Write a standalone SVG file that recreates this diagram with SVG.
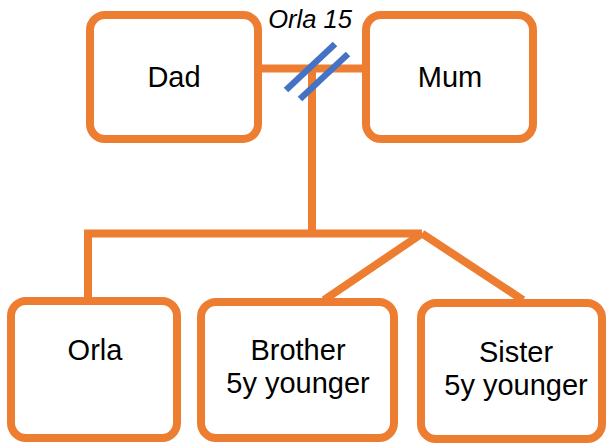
<svg xmlns="http://www.w3.org/2000/svg" width="609" height="444" viewBox="0 0 609 444">
  <style>
    .box { fill: #ffffff; stroke: #ED7D31; stroke-width: 8; }
    .link { fill: none; stroke: #ED7D31; stroke-width: 8; }
    .mark { stroke: #4472C4; stroke-width: 6.5; }
    .label { font-family: "Liberation Sans", Arial, sans-serif; font-size: 29px; fill: #000000; text-anchor: middle; }
    .note { font-family: "Liberation Sans", Arial, sans-serif; font-size: 25.5px; font-style: italic; fill: #000000; text-anchor: middle; }
  </style>

  <!-- family connectors -->
  <g id="connectors">
    <line class="link" x1="262" y1="68.5" x2="362" y2="68.5"/>
    <line class="link" x1="312" y1="68.5" x2="312" y2="233.5"/>
    <polyline class="link" points="88,298 88,233.5 84,233.5 422,233.5"/>
    <line class="link" x1="422" y1="233.5" x2="324" y2="300"/>
    <line class="link" x1="422" y1="233.5" x2="523" y2="300"/>
    <!-- separation mark on the parents' line -->
    <g id="separation">
      <line class="mark" x1="286" y1="90" x2="335" y2="44"/>
      <line class="mark" x1="300" y1="99" x2="348" y2="54"/>
      <text class="note" x="310" y="28">Orla 15</text>
    </g>
  </g>

  <g id="dad">
    <rect class="box" x="90" y="15" width="168" height="124" rx="15"/>
    <text class="label" x="174" y="87">Dad</text>
  </g>

  <g id="mum">
    <rect class="box" x="366" y="15" width="167" height="124" rx="15"/>
    <text class="label" x="450" y="87">Mum</text>
  </g>

  <g id="orla">
    <rect class="box" x="11" y="301" width="166" height="137" rx="15"/>
    <text class="label" x="95" y="360">Orla</text>
  </g>

  <g id="brother">
    <rect class="box" x="201" y="302" width="193" height="136" rx="15"/>
    <text class="label" x="298" y="360">Brother</text>
    <text class="label" x="298" y="393">5y younger</text>
  </g>

  <g id="sister">
    <rect class="box" x="421" y="303" width="181" height="136" rx="15"/>
    <text class="label" x="516" y="362">Sister</text>
    <text class="label" x="516" y="395">5y younger</text>
  </g>
</svg>
